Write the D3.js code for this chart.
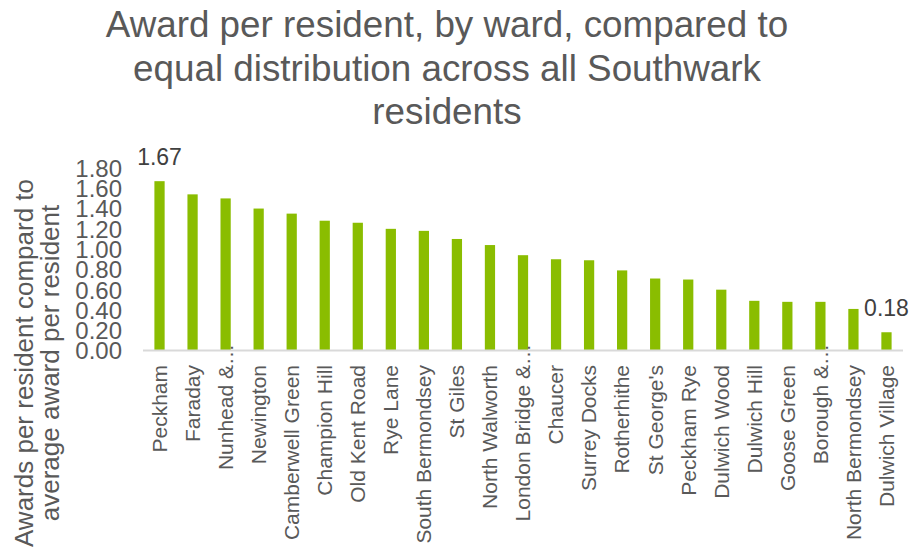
<!DOCTYPE html>
<html>
<head>
<meta charset="utf-8">
<script src="https://cdn.jsdelivr.net/npm/d3@7"></script>
<style>
  html, body { margin: 0; padding: 0; background: #ffffff; }
  svg { display: block; font-family: "Liberation Sans", Arial, sans-serif; }
</style>
</head>
<body>
<svg id="chart" width="912" height="553"></svg>
<script>
// Ward names, in chart order
const wards = [
  "Peckham", "Faraday", "Nunhead &…", "Newington", "Camberwell Green",
  "Champion Hill", "Old Kent Road", "Rye Lane", "South Bermondsey", "St Giles",
  "North Walworth", "London Bridge &…", "Chaucer", "Surrey Docks", "Rotherhithe",
  "St George's", "Peckham Rye", "Dulwich Wood", "Dulwich Hill", "Goose Green",
  "Borough &…", "North Bermondsey", "Dulwich Village"
];

// Award per resident relative to the borough-wide average
const awardRatio = [
  1.67, 1.54, 1.50, 1.40, 1.35,
  1.28, 1.26, 1.20, 1.18, 1.10,
  1.04, 0.94, 0.90, 0.89, 0.79,
  0.71, 0.70, 0.60, 0.49, 0.48,
  0.48, 0.41, 0.18
];

// Y axis tick values
const yTicks = [0, 0.2, 0.4, 0.6, 0.8, 1.0, 1.2, 1.4, 1.6, 1.8];

// Only the highest and lowest bars carry a value label
const labelledWards = ["Peckham", "Dulwich Village"];

const titleLines = [
  "Award per resident, by ward, compared to",
  "equal distribution across all Southwark",
  "residents"
];
const yTitleLines = [
  "Awards per resident compard to",
  "average award per resident"
];

const textColor = "#595959";
const barColor = "#8abd00";

const svg = d3.select("#chart");

const plot = { left: 143, right: 903, top: 168, bottom: 350.5 };

const x = d3.scaleBand()
  .domain(wards)
  .range([plot.left, plot.right])
  .paddingInner(0.69)
  .paddingOuter(0.345);

const y = d3.scaleLinear()
  .domain([0, 1.8])
  .range([plot.bottom, plot.top]);

// Title
svg.append("g")
  .selectAll("text")
  .data(titleLines)
  .join("text")
  .attr("x", 447)
  .attr("y", (d, i) => 37 + i * 43.5)
  .attr("text-anchor", "middle")
  .attr("fill", textColor)
  .style("font-size", "36.8px")
  .text(d => d);

// Y axis title (rotated, two lines)
svg.append("g")
  .selectAll("text")
  .data(yTitleLines)
  .join("text")
  .attr("transform", (d, i) => `translate(${33 + i * 26},363) rotate(-90)`)
  .attr("text-anchor", "middle")
  .attr("fill", textColor)
  .style("font-size", "26px")
  .text(d => d);

// Bars
svg.append("g")
  .selectAll("rect")
  .data(wards)
  .join("rect")
  .attr("x", d => x(d))
  .attr("width", x.bandwidth())
  .attr("y", (d, i) => y(awardRatio[i]))
  .attr("height", (d, i) => y(0) - y(awardRatio[i]))
  .attr("fill", barColor);

// Y axis: labels only, no line or ticks
const yAxis = svg.append("g")
  .attr("transform", `translate(${plot.left - 21},0)`)
  .call(d3.axisLeft(y).tickValues(yTicks).tickFormat(d3.format(".2f")).tickSize(0).tickPadding(0));
yAxis.select(".domain").remove();
yAxis.selectAll("text")
  .attr("fill", textColor)
  .attr("dy", "0.35em")
  .style("font-size", "24px")
  .style("font-family", "'Liberation Sans', Arial, sans-serif");

// X axis baseline
svg.append("line")
  .attr("x1", plot.left)
  .attr("x2", plot.right)
  .attr("y1", y(0))
  .attr("y2", y(0))
  .attr("stroke", "#d9d9d9")
  .attr("stroke-width", 2);

// Category labels, rotated; truncated names let the ellipsis run past the label edge
const xLabels = svg.append("g")
  .selectAll("text")
  .data(wards)
  .join("text")
  .attr("text-anchor", "end")
  .attr("fill", textColor)
  .style("font-size", "21px")
  .text(d => d);

xLabels.attr("transform", function (d) {
  let shift = 0;
  if (d.endsWith("…")) {
    const n = d.length;
    shift = this.getSubStringLength(n - 1, 1);
  }
  const cx = x(d) + x.bandwidth() / 2;
  return `translate(${cx},${365 - shift}) rotate(-90)`;
}).attr("dy", "0.35em");

// Value labels on the highest and lowest bars
svg.append("g")
  .selectAll("text")
  .data(wards.filter(d => labelledWards.includes(d)))
  .join("text")
  .attr("x", d => x(d) + x.bandwidth() / 2)
  .attr("y", d => y(awardRatio[wards.indexOf(d)]) - 16)
  .attr("text-anchor", "middle")
  .attr("fill", "#404040")
  .style("font-size", "23px")
  .text(d => awardRatio[wards.indexOf(d)].toFixed(2));
</script>
</body>
</html>
